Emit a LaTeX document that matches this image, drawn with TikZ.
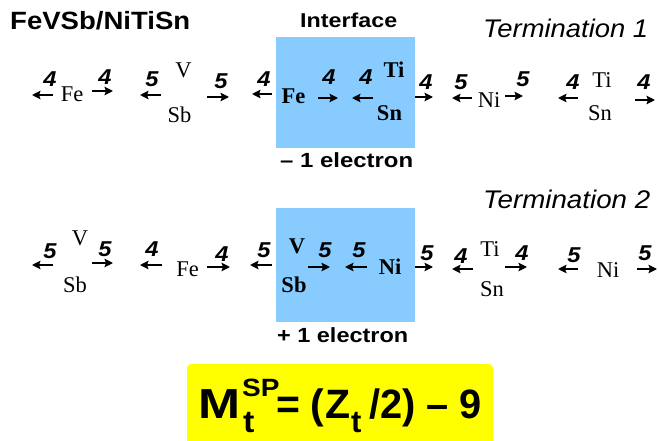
\documentclass[tikz,border=0pt]{standalone}
\usepackage{fontspec}
\usepackage{graphicx}
\setmainfont{Liberation Serif}
\setsansfont{Liberation Sans}
\usetikzlibrary{arrows.meta}
\definecolor{boxblue}{RGB}{136,204,255}
\definecolor{boxyellow}{RGB}{255,255,0}
\newcommand\fs[1]{\fontsize{#1}{#1}\selectfont}
\newcommand\wfit[2]{\resizebox{#1pt}{\height}{#2}}
\newcommand\sx[2]{\scalebox{#1}[1]{#2}}
% name, from x, to x, y, number, number x, number baseline
\newcommand\harrow[7]{%
  \coordinate (#1a) at (#2,#4);
  \coordinate (#1b) at (#3,#4);
  \draw[arr] (#1a) -- (#1b);
  \node[num] (#1n) at (#6,#7) {\sx{1.1}{#5}};
}
\tikzset{
  arr/.style={line width=2.3pt, -{Stealth[length=8.5pt,width=8.5pt,inset=1.5pt]}},
  num/.style={inner sep=0pt, anchor=base, font=\fs{21.5}\sffamily\bfseries\itshape},
  el/.style={inner sep=0pt, anchor=base, font=\fs{22.5}},
  elb/.style={inner sep=0pt, anchor=base, font=\fs{22.5}\bfseries},
  ttl/.style={inner sep=0pt, anchor=base west},
  frm/.style={inner sep=0pt, anchor=base west, font=\fs{41}\sffamily\bfseries},
  iface/.style={fill=boxblue, draw=none, inner sep=0pt, anchor=north west},
}
\begin{document}
\begin{tikzpicture}[x=1pt,y=-1pt]
\useasboundingbox (0,0) rectangle (658,441);
\clip (0,0) rectangle (658,441);
% interface boxes
\node[iface, minimum width=139pt, minimum height=111pt] (box1) at (276,37) {};
\node[iface, minimum width=139pt, minimum height=114pt] (box2) at (276,208) {};
% titles
\node[ttl] (title) at (10,30) {\wfit{180}{\fs{25}\sffamily\bfseries FeVSb/NiTiSn}};
\node[ttl] (inter) at (300,27.5) {\wfit{97}{\fs{20}\sffamily\bfseries Interface}};
\node[ttl] (term1) at (483,38) {\wfit{165}{\fs{25.5}\sffamily\itshape Termination 1}};
\node[ttl] (term2) at (483,208) {\wfit{167}{\fs{25.5}\sffamily\itshape Termination 2}};
\node[ttl] (minus) at (280,167.5) {\wfit{133}{\fs{20.5}\sffamily\bfseries – 1 electron}};
\node[ttl] (plus) at (277,342.5) {\wfit{131}{\fs{20.5}\sffamily\bfseries + 1 electron}};
% row 1 atoms
\node[el] (fe1) at (72,102) {Fe};
\node[el] (v1) at (183.5,78) {V};
\node[el] (sb1) at (179.5,123) {Sb};
\node[elb] (fe1b) at (293.5,103) {Fe};
\node[elb] (ti1b) at (394,78) {Ti};
\node[elb] (sn1b) at (389.5,121) {Sn};
\node[el] (ni1) at (489,107) {Ni};
\node[el] (ti1) at (602,88) {Ti};
\node[el] (sn1) at (600,121) {Sn};
% row 1 arrows
\harrow{a1}{53}{32}{95}{4}{50}{87}
\harrow{a2}{92}{113}{91}{4}{105}{85}
\harrow{a3}{161}{140}{95}{5}{152}{87}
\harrow{a4}{207}{229}{97}{5}{221}{89}
\harrow{a5}{272}{252}{94}{4}{264}{87}
\harrow{a6}{318}{338}{98}{4}{329}{85}
\harrow{a7}{373}{352}{98}{4}{366}{85}
\harrow{a8}{415}{433}{97}{4}{426}{90}
\harrow{a9}{472}{452}{98}{5}{461}{90}
\harrow{a10}{505}{523}{96}{5}{523}{87}
\harrow{a11}{578}{558}{98}{4}{573}{90}
\harrow{a12}{635}{655}{100}{4}{644}{90}
% row 2 atoms
\node[el] (v2) at (80,245) {V};
\node[el] (sb2) at (75,292) {Sb};
\node[el] (fe2) at (187.5,276) {Fe};
\node[elb] (v2b) at (297,253) {V};
\node[elb] (sb2b) at (294,292) {Sb};
\node[elb] (ni2b) at (390,274) {Ni};
\node[el] (ti2) at (490,256) {Ti};
\node[el] (sn2) at (492,296) {Sn};
\node[el] (ni2) at (608,277) {Ni};
% row 2 arrows
\harrow{b1}{53}{32}{265}{5}{50}{258}
\harrow{b2}{92}{113}{263}{5}{105}{256}
\harrow{b3}{162}{140}{265}{4}{152}{256}
\harrow{b4}{207}{230}{267}{4}{222}{261}
\harrow{b5}{272}{250}{265}{5}{264}{257}
\harrow{b6}{308}{330}{267}{5}{325}{257}
\harrow{b7}{367}{345}{267}{5}{359}{257}
\harrow{b8}{415}{433}{267}{5}{427}{260}
\harrow{b9}{473}{452}{269}{4}{461}{263}
\harrow{b10}{505}{527}{267}{4}{522}{260}
\harrow{b11}{578}{558}{269}{5}{574}{262}
\harrow{b12}{637}{657}{269}{5}{645}{260}
% formula box
\fill[boxyellow, rounded corners=4pt] (187,364) rectangle (493,448);
\node[frm] (fM) at (198,418) {\sx{1.2}{\fs{42}M}};
\node[frm] (fSP) at (242,396) {\sx{1.12}{\fs{25}SP}};
\node[frm] (ft1) at (243,432) {\sx{1.1}{\fs{31}t}};
\node[frm] (fEq) at (276,418) {=};
\node[frm] (fPar) at (310,418) {(};
\node[frm] (fZ) at (325,418) {Z};
\node[frm] (ft2) at (351,432) {\fs{31}t};
\node[frm] (fRest) at (369,418) {\sx{0.97}{/2) – 9}};
\end{tikzpicture}
\end{document}
